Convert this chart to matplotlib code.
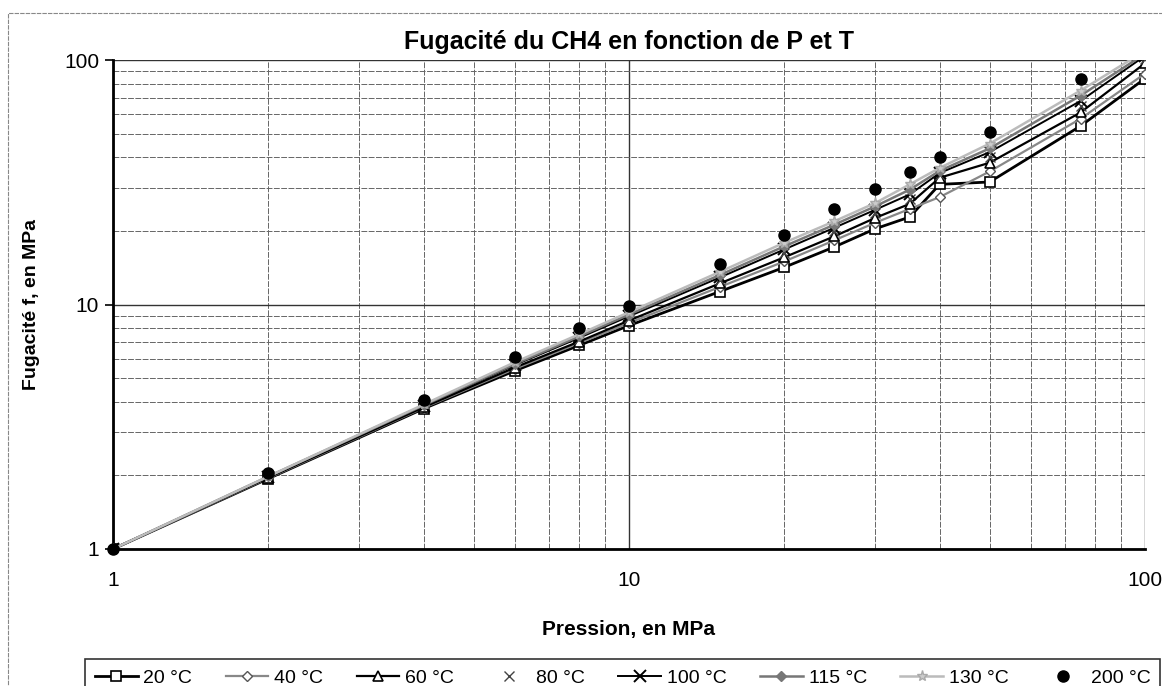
import numpy as np
import matplotlib.pyplot as plt
from matplotlib.patches import Rectangle
from matplotlib.ticker import FixedLocator, NullFormatter

plt.rcParams['font.family'] = ['Liberation Sans', 'DejaVu Sans']

# Pression (MPa)
P = [1, 2, 4, 6, 8, 10, 15, 20, 25, 30, 35, 40, 50, 75, 100]

# Fugacité (MPa) par température
f_20 = [1.0, 1.94, 3.75, 5.35, 6.8, 8.2, 11.3, 14.2, 17.2, 20.4, 22.8, 31.0, 31.7, 53.7, 84.0]
f_40 = [1.0, 1.95, 3.78, 5.45, 6.95, 8.4, 11.8, 15.0, 18.3, 21.6, 24.6, 27.5, 35.0, 57.5, 88.0]
f_60 = [1.0, 1.96, 3.8, 5.52, 7.05, 8.6, 12.2, 15.6, 19.0, 22.6, 25.8, 33.0, 38.0, 61.0, 97.0]
f_80 = [1.0, 1.97, 3.83, 5.6, 7.2, 8.8, 12.6, 16.3, 19.9, 23.6, 27.0, 33.8, 40.0, 65.0, 101.0]
f_100 = [1.0, 1.97, 3.85, 5.65, 7.3, 8.95, 12.9, 16.8, 20.6, 24.4, 28.2, 34.5, 42.0, 68.0, 104.0]
f_115 = [1.0, 1.98, 3.87, 5.7, 7.4, 9.1, 13.2, 17.3, 21.2, 25.2, 29.5, 35.2, 43.5, 71.5, 106.0]
f_130 = [1.0, 1.98, 3.9, 5.8, 7.55, 9.3, 13.6, 17.9, 21.9, 26.0, 31.0, 36.2, 45.5, 75.0, 109.0]
P_200 = [1, 2, 4, 6, 8, 10, 15, 20, 25, 30, 35, 40, 50, 75]
f_200 = [1.0, 2.05, 4.05, 6.1, 8.0, 9.9, 14.7, 19.3, 24.6, 29.7, 34.8, 40.1, 50.8, 83.6]

fig = plt.figure(figsize=(11.62, 6.86), dpi=100)
fig.patch.set_facecolor('white')
ax = fig.add_axes([113/1162, 1 - 549/686, (1145-113)/1162, (549-60)/686])

# chart-area frame
fig.add_artist(Rectangle((8/1162, -0.01), 1 - 8/1162 + 0.01, 1 - 13/686 + 0.01,
                         transform=fig.transFigure, fill=False,
                         ec='#888888', lw=0.8, ls=(0, (4, 1)), clip_on=False))

ms = 7
ax.plot(P, f_20, color='black', lw=2.0, marker='s', ms=ms, mfc='white', mec='black', mew=1.2, label='20 °C', zorder=3)
ax.plot(P, f_40, color='#888888', lw=1.6, marker='D', ms=5, mfc='white', mec='#555555', mew=1.0, label='40 °C', zorder=3)
ax.plot(P, f_60, color='black', lw=1.6, marker='^', ms=ms, mfc='white', mec='black', mew=1.2, label='60 °C', zorder=3)
ax.plot(P, f_80, ls='none', marker='x', ms=ms, mec='#444444', mew=1.0, label='80 °C', zorder=3)
ax.plot(P, f_100, color='black', lw=1.4, marker='x', ms=9, mec='black', mew=1.4, label='100 °C', zorder=3)
ax.plot(P, f_115, color='#777777', lw=1.8, marker='D', ms=5, mfc='#777777', mec='#777777', label='115 °C', zorder=3)
ax.plot(P, f_130, color='#bbbbbb', lw=1.8, marker='*', ms=8, mfc='#cccccc', mec='#aaaaaa', label='130 °C', zorder=3)
ax.plot(P_200, f_200, ls='none', marker='o', ms=8, mfc='black', mec='black', label='200 °C',
        zorder=4, clip_on=False)

ax.set_xscale('log')
ax.set_yscale('log')
ax.set_xlim(1, 100)
ax.set_ylim(1, 100)

ax.xaxis.set_major_locator(FixedLocator([1, 10, 100]))
ax.yaxis.set_major_locator(FixedLocator([1, 10, 100]))
minors = [m * d for d in (1, 10) for m in range(2, 10)]
ax.xaxis.set_minor_locator(FixedLocator(minors))
ax.yaxis.set_minor_locator(FixedLocator(minors))
ax.xaxis.set_minor_formatter(NullFormatter())
ax.yaxis.set_minor_formatter(NullFormatter())
ax.set_xticklabels(['1', '10', '100'], fontsize=15)
ax.set_yticklabels(['1', '10', '100'], fontsize=15)
ax.tick_params(axis='x', which='both', length=0, pad=16)
ax.tick_params(axis='y', which='major', length=6, direction='out', width=1.2, pad=4)
ax.tick_params(axis='y', which='minor', length=0)

ax.grid(which='major', color='#333333', lw=1.0)
ax.grid(which='minor', color='#666666', lw=0.7, ls=(0, (6, 1.5)))
ax.set_axisbelow(True)

for side in ('top', 'right'):
    ax.spines[side].set_visible(False)
ax.spines['left'].set_linewidth(2.0)
ax.spines['bottom'].set_linewidth(2.0)

ax.set_title('Fugacité du CH4 en fonction de P et T', fontsize=18,
             fontweight='bold', pad=8)
ax.set_xlabel('Pression, en MPa', fontsize=15, fontweight='bold')
ax.set_ylabel('Fugacité f, en MPa', fontsize=14, fontweight='bold')
ax.xaxis.set_label_coords(0.5, (549 - 620) / 489)
ax.yaxis.set_label_coords((40 - 113) / 1032, 0.5)

leg = fig.legend(loc='lower left', bbox_to_anchor=(85/1162, -0.015, (1160-85)/1162, 0.068),
                 mode='expand', ncol=8, fontsize=14, frameon=True, fancybox=False,
                 handlelength=2.2, handletextpad=0.3, columnspacing=0.6,
                 borderaxespad=0, borderpad=0.5)
leg.get_frame().set_edgecolor('black')
leg.get_frame().set_linewidth(1.2)

fig.savefig('out.png', dpi=100, facecolor='white')
